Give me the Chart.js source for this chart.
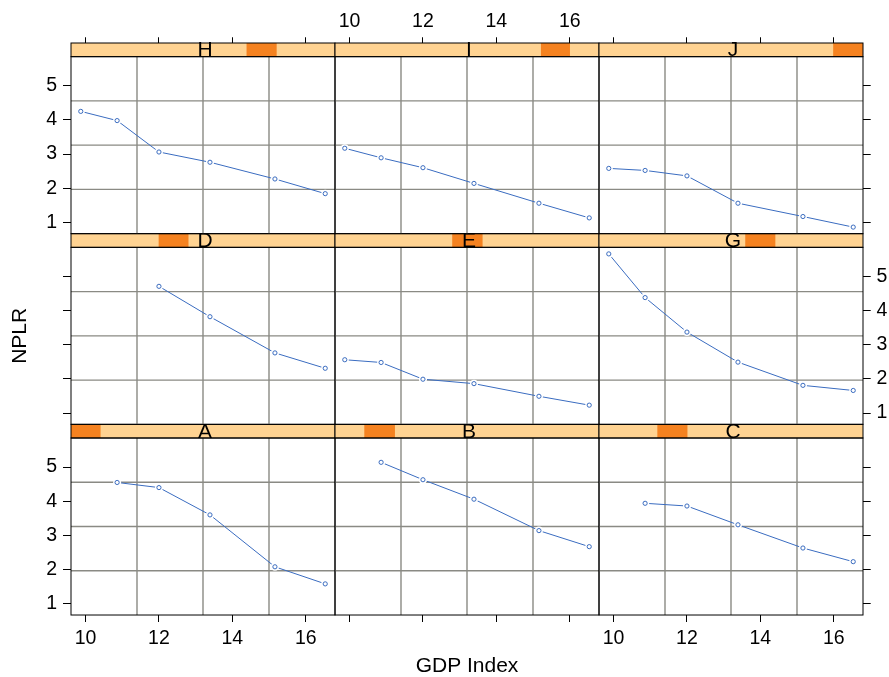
<!DOCTYPE html>
<html><head><meta charset="utf-8">
<script src="https://cdn.jsdelivr.net/npm/chart.js@4.4.1/dist/chart.umd.min.js"></script>
<style>
html,body{margin:0;padding:0;background:#fff;}
#wrap{position:relative;width:889px;height:677px;overflow:hidden;}
#wrap canvas{position:absolute;left:0;top:0;}
</style></head>
<body><div id="wrap"></div>
<script>
// ---- data ----
const gdpIndex = [9.87, 10.86, 12.0, 13.39, 15.16, 16.53];
const panelNames = ['A', 'B', 'C', 'D', 'E', 'G', 'H', 'I', 'J'];
const nplrA = [null, 4.55, 4.40, 3.60, 2.08, 1.58];
const nplrB = [null, 5.14, 4.63, 4.06, 3.14, 2.67];
const nplrC = [null, 3.94, 3.86, 3.31, 2.63, 2.23];
const nplrD = [null, null, 4.71, 3.82, 2.76, 2.31];
const nplrE = [2.56, 2.48, 1.99, 1.86, 1.49, 1.23];
const nplrG = [5.66, 4.38, 3.37, 2.49, 1.81, 1.66];
const nplrH = [4.25, 3.98, 3.06, 2.76, 2.27, 1.84];
const nplrI = [3.17, 2.89, 2.60, 2.14, 1.56, 1.13];
const nplrJ = [2.58, 2.52, 2.36, 1.56, 1.17, 0.86];
// shingle level ranges (fraction of the conditioning variable's range)
const levelLo = [0.000, 0.111, 0.221, 0.332, 0.444, 0.554, 0.665, 0.780, 0.887];
const levelHi = [0.112, 0.227, 0.335, 0.445, 0.559, 0.668, 0.779, 0.890, 1.000];
const xTickValues = [10, 12, 14, 16];
const yTickValues = [1, 2, 3, 4, 5];
const xTitle = 'GDP Index';
const yTitle = 'NPLR';

// ---- layout / style ----
const W = 889, H = 677;
const COL_LEFT0 = 71, PANEL_W = 264;
const ROW_TOP0 = 43, ROW_H = 190.67, STRIP_H = 13.67, PANEL_H = 177;
const FONT = '"Liberation Sans", Arial, Helvetica, sans-serif';
const LINE = '#3a6cc0';
const STRIP_BG = '#FFD392';
const STRIP_FG = '#F58220';
const GRID = '#8a8a84';

const series = [nplrA, nplrB, nplrC, nplrD, nplrE, nplrG, nplrH, nplrI, nplrJ];
const allY = series.flat().filter(v => v !== null);
const yLo = Math.min(...allY), yHi = Math.max(...allY), yPad = 0.04 * (yHi - yLo);
const xLo = Math.min(...gdpIndex), xHi = Math.max(...gdpIndex), xPad = 0.04 * (xHi - xLo);

const panelPlugin = {
  id: 'panel',
  beforeDatasetsDraw(chart) {
    const {ctx, chartArea: a} = chart;
    ctx.save();
    ctx.strokeStyle = GRID; ctx.lineWidth = 1.4;
    ctx.beginPath();
    for (let k = 1; k < 4; k++) {
      const x = a.left + (a.right - a.left) * k / 4;
      const y = a.top + (a.bottom - a.top) * k / 4;
      ctx.moveTo(x, a.top); ctx.lineTo(x, a.bottom);
      ctx.moveTo(a.left, y); ctx.lineTo(a.right, y);
    }
    ctx.stroke();
    ctx.restore();
  },
  afterDraw(chart, args, opts) {
    const {ctx, chartArea: a} = chart;
    const s = chart.scales.s;
    const top = a.top - STRIP_H, w = a.right - a.left;
    ctx.save();
    ctx.fillStyle = STRIP_BG;
    ctx.fillRect(a.left, top, w, STRIP_H);
    const x0 = s.getPixelForValue(opts.lo), x1 = s.getPixelForValue(opts.hi);
    ctx.fillStyle = STRIP_FG;
    ctx.fillRect(x0, top, x1 - x0, STRIP_H);
    ctx.fillStyle = '#000';
    ctx.font = '21px ' + FONT;
    ctx.textAlign = 'center';
    ctx.textBaseline = 'alphabetic';
    ctx.fillText(opts.name, (a.left + a.right) / 2 + 2, a.top - 0.3);
    ctx.strokeStyle = '#000'; ctx.lineWidth = 1;
    ctx.strokeRect(a.left, top, w, STRIP_H);
    ctx.strokeRect(a.left, a.top, w, a.bottom - a.top);
    ctx.restore();
  }
};

const wrap = document.getElementById('wrap');
for (let p = 0; p < 9; p++) {
  const rb = Math.floor(p / 3), c = p % 3, r = 2 - rb;
  const L = COL_LEFT0 + c * PANEL_W, R = L + PANEL_W;
  const T = ROW_TOP0 + r * ROW_H + STRIP_H, B = T + PANEL_H;
  const pts = gdpIndex.map((x, i) => ({x: x, y: series[p][i]})).filter(d => d.y !== null);
  const showX = r !== 1, showY = c !== 1;
  const xLabels = (r === 2 && c !== 1) || (r === 0 && c === 1);
  const yLabels = (c === 0 && r !== 1) || (c === 2 && r === 1);

  const cv = document.createElement('canvas');
  cv.width = W; cv.height = H;
  cv.style.width = W + 'px'; cv.style.height = H + 'px';
  wrap.appendChild(cv);

  new Chart(cv, {
    type: 'line',
    data: {
      datasets: [
        {data: pts, xAxisID: 'x', yAxisID: 'y', showLine: true, borderColor: LINE, borderWidth: 1,
         pointRadius: 0, fill: false, order: 3},
        {data: pts, xAxisID: 'x', yAxisID: 'y', showLine: false, pointRadius: 4,
         pointBackgroundColor: '#fff', pointBorderColor: '#fff', pointBorderWidth: 0, order: 2},
        {data: pts, xAxisID: 'x', yAxisID: 'y', showLine: false, pointRadius: 2.1,
         pointBackgroundColor: '#fff', pointBorderColor: LINE, pointBorderWidth: 1, order: 1}
      ]
    },
    options: {
      responsive: false, animation: false, events: [],
      layout: {padding: {
        left: c === 0 ? 0 : L,
        right: c === 2 ? 0 : W - R,
        top: r === 0 ? 0 : T,
        bottom: r === 2 ? 0 : H - B
      }},
      plugins: {
        legend: {display: false}, tooltip: {enabled: false},
        panel: {name: panelNames[p], lo: levelLo[p], hi: levelHi[p]}
      },
      scales: {
        x: {
          type: 'linear', position: r === 0 ? 'top' : 'bottom', display: showX,
          min: xLo - xPad, max: xHi + xPad,
          afterBuildTicks: s => { s.ticks = xTickValues.map(v => ({value: v})); },
          afterFit: s => { if (showX) s.height = (r === 0 ? T : H - B); },
          grid: {drawOnChartArea: false, drawTicks: true, tickLength: r === 0 ? 19.4 : 7,
                 color: '#000', tickColor: '#000', lineWidth: 1},
          border: {display: false},
          ticks: {display: xLabels, padding: r === 0 ? 4 : 5, color: '#000',
                  font: {family: FONT, size: 19.5}, maxRotation: 0, autoSkip: false},
          title: {display: p === 1, text: xTitle, color: '#000',
                  font: {family: FONT, size: 21, lineHeight: 1}, padding: 0}
        },
        y: {
          type: 'linear', position: c === 2 ? 'right' : 'left', display: showY,
          min: yLo - yPad, max: yHi + yPad,
          afterBuildTicks: s => { s.ticks = yTickValues.map(v => ({value: v})); },
          afterFit: s => { if (showY) s.width = (c === 0 ? L : W - R); },
          grid: {drawOnChartArea: false, drawTicks: true, tickLength: c === 0 ? 8 : 7.7,
                 color: '#000', tickColor: '#000', lineWidth: 1},
          border: {display: false},
          ticks: {display: yLabels, padding: c === 0 ? 6 : 5.7, color: '#000',
                  font: {family: FONT, size: 19.5}, autoSkip: false},
          title: {display: p === 3, text: yTitle, color: '#000',
                  font: {family: FONT, size: 21, lineHeight: 1}, padding: {top: 10, bottom: 0}}
        },
        s: {type: 'linear', axis: 'x', display: false, min: 0, max: 1}
      }
    },
    plugins: [panelPlugin]
  });
}
</script>
</body></html>
